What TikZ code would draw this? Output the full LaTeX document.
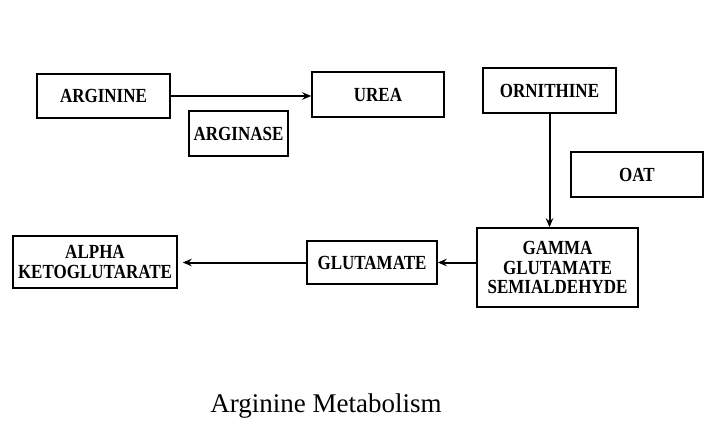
\documentclass[tikz,border=0pt]{standalone}
\usepackage{fontspec}
\setmainfont{Liberation Serif}
\newfontfamily\labelfont[FakeStretch=0.85,UprightFont={* Bold}]{Liberation Serif}
\usetikzlibrary{arrows.meta}
\begin{document}
\begin{tikzpicture}[x=1pt,y=-1pt,
  box/.style={draw=black, line width=1.5pt, fill=white, align=center,
    inner sep=0pt, font=\labelfont\fontsize{20}{19.5}\selectfont},
  flow/.style={line width=2pt, -{Stealth[length=9pt,width=7.5pt]}}]
  \useasboundingbox[fill=white] (0,0) rectangle (706,438);

  % compounds and enzymes
  \node[box, minimum width=133pt, minimum height=44pt] (arg) at (103.5,96) {ARGININE};
  \node[box, minimum width=132pt, minimum height=45pt] (urea) at (378,94.5) {UREA};
  \node[box, minimum width=99pt, minimum height=45pt] (arginase) at (238.5,133.5) {ARGINASE};
  \node[box, minimum width=133pt, minimum height=45pt] (orn) at (549.5,90.5) {ORNITHINE};
  \node[box, minimum width=132pt, minimum height=45pt] (oat) at (637,174.5) {OAT};
  \node[box, minimum width=164pt, minimum height=52pt] (akg) at (95,262) {ALPHA\\KETOGLUTARATE};
  \node[box, minimum width=130pt, minimum height=43pt] (glu) at (372,262.5) {GLUTAMATE};
  \node[box, minimum width=161pt, minimum height=79pt] (ggs) at (557.5,267.5) {GAMMA\\GLUTAMATE\\SEMIALDEHYDE};

  % reactions
  \draw[flow] (arg.east) -- (arg.east -| urea.west);
  \draw[flow] (orn.south) -- (orn.south |- ggs.north);
  \draw[flow] (glu.east -| ggs.west) -- (glu.east);
  \draw[flow, shorten >=5pt] (glu.west) -- (glu.west -| akg.east);

  % caption
  \node[font=\fontsize{27}{31}\selectfont] (title) at (326,406) {Arginine Metabolism};
\end{tikzpicture}
\end{document}
